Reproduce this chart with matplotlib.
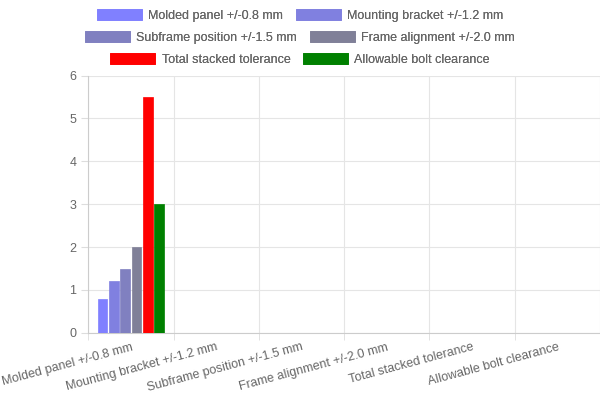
import numpy as np
import matplotlib.pyplot as plt
import matplotlib.transforms as mtransforms

plt.rcParams['font.family'] = ['Liberation Sans', 'DejaVu Sans']

categories = ["Molded panel +/-0.8 mm", "Mounting bracket +/-1.2 mm",
              "Subframe position +/-1.5 mm", "Frame alignment +/-2.0 mm",
              "Total stacked tolerance", "Allowable bolt clearance"]
values = [0.8, 1.2, 1.5, 2.0, 5.5, 3.0]
colors = ["#8080ff", "#8080e0", "#8080c0", "#808098", "#ff0000", "#008000"]

fig = plt.figure(figsize=(6, 4), dpi=100)
ax = fig.add_axes([0.147, 0.168, 0.853, 0.643])

n = len(values)
cat_w = 1.0
group = 0.8 * cat_w
slot = group / n
for i, (lab, v, c) in enumerate(zip(categories, values, colors)):
    x = -group / 2 + slot * (i + 0.5)
    ax.bar(x, v, width=slot * 0.85, color=c, edgecolor=c, linewidth=0.5,
           label=lab, zorder=3)

ax.set_xlim(-0.5, n - 0.5)
ax.set_ylim(0, 6)
ax.set_yticks(range(0, 7))
ax.set_xticks(np.arange(n))
ax.set_xticklabels(categories, rotation=15, ha="right", rotation_mode="anchor",
                   fontsize=9, color="#666666")
offset = mtransforms.ScaledTranslation(0.06, 0, fig.dpi_scale_trans)
for t in ax.get_xticklabels():
    t.set_transform(t.get_transform() + offset)
ax.set_xticks(np.arange(n + 1) - 0.5, minor=True)
ax.tick_params(axis="x", which="major", length=0, pad=6)
ax.tick_params(axis="x", which="minor", length=5, color="#dddddd")
ax.tick_params(axis="y", length=5, color="#dddddd", labelsize=9, labelcolor="#666666")
ax.grid(True, axis="y", color="#e5e5e5", zorder=0)
ax.grid(True, axis="x", which="minor", color="#e5e5e5", zorder=0)
for s in ["top", "right"]:
    ax.spines[s].set_visible(False)
for s in ["left", "bottom"]:
    ax.spines[s].set_color("#cccccc")

h, l = ax.get_legend_handles_labels()
rows = [(0.962, 0, 2), (0.907, 2, 4), (0.852, 4, 6)]
for y, a, b in rows:
    lg = fig.legend(h[a:b], l[a:b], loc="center", bbox_to_anchor=(0.5, y), ncol=2,
                    frameon=False, fontsize=9, handlelength=3.6, handleheight=1.0,
                    columnspacing=1.0, handletextpad=0.5, labelcolor="#666666")
    fig.add_artist(lg)

fig.savefig("out.png")
